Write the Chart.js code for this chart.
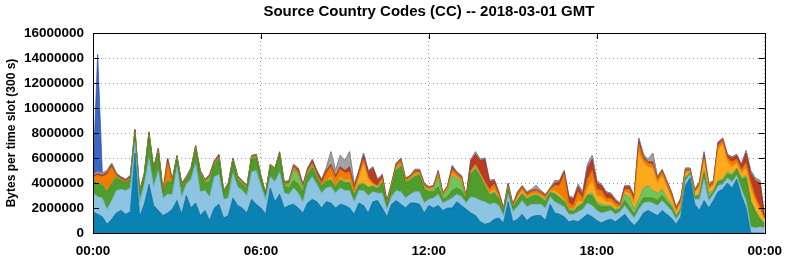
<!DOCTYPE html>
<html>
<head>
<meta charset="utf-8">
<title>Source Country Codes (CC) -- 2018-03-01 GMT</title>
<script src="https://cdn.jsdelivr.net/npm/chart.js@4.4.1/dist/chart.umd.min.js"></script>
<style>
  html, body { margin: 0; padding: 0; background: #fff; }
  #wrap { width: 792px; height: 259px; }
</style>
</head>
<body>
<div id="wrap"><canvas id="chart" width="792" height="259"></canvas></div>
<script>
// ===== Data =====
// One value every 10 minutes (00:00 .. 24:00), in millions of bytes per 300 s slot.
// Layers listed bottom -> top, as stacked in the picture.
const darkBlue = [
  1.7,1.5,1.3,0.7,1.1,1.6,1.8,1.5,1.7,6.4,1.3,2.3,
  3.9,2.2,1.8,1.4,1.6,1.9,2.6,1.5,3.0,2.0,2.4,1.4,
  1.8,1.0,2.0,2.3,1.2,1.4,2.8,2.2,2.0,1.6,2.7,2.3,
  2.0,1.5,3.6,2.5,3.1,2.0,2.2,2.3,2.0,1.6,2.4,2.7,
  2.5,2.0,2.5,2.4,2.0,2.3,2.2,2.0,1.5,2.4,2.2,1.6,
  2.5,2.6,2.0,1.3,2.3,2.6,2.3,2.0,2.4,2.4,2.3,1.6,
  2.2,2.0,2.2,1.8,2.0,2.0,2.5,2.2,1.9,1.6,1.4,0.9,
  0.7,0.8,1.1,1.2,0.8,2.5,0.9,1.1,1.5,1.0,1.3,1.4,
  1.4,1.0,2.3,1.6,1.5,1.3,0.9,1.0,0.9,1.2,1.5,1.3,
  1.0,0.8,1.0,1.1,0.9,1.2,1.5,1.0,0.6,1.0,1.6,1.8,
  1.6,1.4,1.8,1.5,1.2,0.7,1.3,3.8,4.4,2.3,1.8,2.6,
  2.0,2.6,3.3,3.5,4.0,3.6,4.3,3.0,2.0,0,0,0,
  0
];
const lightBlue = [
  1.5,1.4,1.5,1.2,1.5,1.8,1.7,1.9,1.9,0.9,1.2,1.6,
  2.1,1.5,3.2,1.4,1.5,1.2,2.7,1.4,0.9,2.3,3.2,1.9,
  1.6,1.9,2.5,2.4,1.5,1.4,2.0,1.5,1.4,1.4,2.2,2.7,
  1.8,1.2,0.9,1.6,1.8,1.2,0.9,1.3,1.2,0.9,1.6,1.8,
  1.4,1.2,1.1,1.3,1.2,1.3,1.2,1.4,1.0,1.0,1.2,1.4,
  0.8,0.6,1.2,0.6,0.6,0.8,1.0,0.8,0.7,0.9,1.0,0.8,
  0.5,0.8,0.9,0.6,0.6,0.8,0.6,0.7,0.5,1.3,1.4,1.7,
  1.8,1.5,1.3,1.0,0.6,0.6,0.8,1.0,1.1,1.1,1.0,0.9,
  0.9,1.0,0.6,0.9,0.8,0.8,0.6,0.5,0.8,0.7,0.9,0.9,
  0.8,0.8,0.7,0.7,0.6,0.5,0.7,0.7,0.6,0.9,0.8,0.7,
  0.8,0.8,0.8,0.7,0.6,0.4,0.4,0.4,0.3,0.4,0.9,1.7,
  0.6,0.5,0.5,0.4,0.4,0.5,0.3,0.5,0.6,0.5,0.4,0.5,
  0.4
];
const darkGreen = [
  1.0,1.0,1.0,1.3,1.3,1.0,0.7,0.6,0.7,0.6,0.6,0.6,
  1.7,1.2,1.4,0.4,1.0,0.9,0.6,0.8,0.4,0.6,1.1,1.4,
  0.6,1.2,0.9,1.2,0.5,1.0,0.9,0.6,0.5,0.5,1.0,1.0,
  0.6,0.4,0.8,0.9,1.3,0.6,0.5,0.6,0.7,0.8,0.6,0.7,
  0.5,0.5,0.5,0.5,0.4,0.6,0.6,0.6,0.5,0.4,0.5,0.6,
  0.4,0.3,0.8,0.3,0.7,1.6,2.0,1.2,1.1,1.2,1.3,1.1,
  0.6,0.5,0.6,0.3,0.3,0.6,0.5,0.5,0.3,1.8,2.3,1.9,
  1.2,0.7,0.8,0.5,0.3,0.4,0.3,0.5,0.5,0.6,0.6,0.7,
  0.5,0.5,0.3,0.6,0.5,0.4,0.3,0.2,0.4,0.4,0.6,0.8,
  0.5,0.5,0.4,0.3,0.3,0.2,0.4,0.4,0.3,0.3,0.4,0.3,
  0.4,0.4,0.4,0.3,0.3,0.2,0.2,0.2,0.1,0.2,0.3,0.5,
  0.2,0.2,0.3,0.3,0.3,0.5,0.5,0.8,1.8,2.0,1.3,0.6,
  0.3
];
const lightGreen = [
  0.1,0.1,0.1,0.1,0.1,0.1,0.05,0.05,0.05,0.1,0.1,0.1,
  0.1,0.05,0.1,0.05,0.1,0.05,0.1,0.05,0.05,0.1,0.1,0.1,
  0.1,0.3,0.1,0.1,0.05,0.05,0.1,0.1,0.1,0.1,0.1,0.1,
  0.05,0.03,0.05,0.05,0.1,0.1,0.3,0.9,0.8,0.3,0.2,0.2,
  0.1,0.1,0.1,0.1,0.1,0.1,0.1,0.1,0.1,0.1,0.1,0.1,
  0.1,0.1,0.1,0.05,0.1,0.1,0.1,0.1,0.1,0.1,0.1,0.1,
  0.1,0.2,0.8,0.2,0.6,1.2,0.8,0.7,0.05,0.1,0.2,0.1,
  0.1,0.1,0.1,0.1,0.05,0.1,0.05,0.1,0.1,0.1,0.1,0.1,
  0.1,0.1,0.1,0.1,0.1,0.1,0.1,0.1,0.1,0.1,0.1,0.2,
  0.2,0.2,0.1,0.1,0.1,0.05,0.5,0.8,0.4,0.5,0.8,1.0,
  0.6,0.6,0.5,0.3,0.2,0.1,0.1,0.1,0.05,0.05,0.1,0.2,
  0.4,0.1,0.1,0.1,0.2,0.1,0.1,0.1,0.2,0.1,0.1,0.1,
  0.05
];
const yellow = [
  0,0,0,0,0,0,0,0,0,0,0,0,
  0,0,0,0,0,0,0,0,0,0,0,0,
  0,0,0,0,0,0,0,0,0,0,0,0,
  0,0,0,0,0,0,0,0,0,0,0,0,
  0,0,0,0.2,0,0.2,0.1,0.2,0.1,0.5,1.6,0.6,
  0.1,0.1,0.1,0.05,0.1,0.1,0.1,0.05,0.05,0.1,0.1,0.1,
  0.1,0.1,0.1,0.1,0.1,0.2,0.1,0.1,0.05,0.1,0.1,0.1,
  0.1,0.1,0.2,0.1,0.05,0.1,0.05,0.2,0.2,0.1,0.1,0.1,
  0.1,0.1,0.1,0.2,0.2,0.1,0.1,0.1,0.4,0.1,0.5,1.0,
  0.5,0.6,0.3,0.3,0.2,0.1,0.2,0.3,0.5,3.8,2.0,1.5,
  1.8,0.8,1.1,0.9,0.5,0.3,0.4,0.3,0.1,0.3,0.6,0.8,
  0.3,0.4,2.5,2.8,0.8,0.6,0.4,0.4,0.6,1.0,0.8,0.6,
  0.3
];
const orange = [
  0.2,0.6,0.6,1.4,1.3,0.1,0.1,0.1,0.1,0.1,0.1,0.1,
  0.1,0.1,0.1,0.05,1.5,0.1,0.1,0.1,0.05,0.1,0.1,0.1,
  0.1,0.1,0.1,0.1,0.05,0.05,0.1,0.1,0.1,0.1,0.1,0.1,
  0.05,0.03,0.05,0.05,0.1,0.1,0.1,0.2,0.2,0.1,0.2,0.2,
  0.2,0.2,0.6,0.8,0.7,0.6,0.6,0.6,0.3,0.3,0.3,0.2,
  0.1,0.1,0.2,0.1,0.1,0.2,0.3,0.15,0.15,0.2,0.1,0.1,
  0.1,0.1,0.2,0.1,0.1,0.3,0.2,0.2,0.05,0.1,0.1,0.1,
  0.2,0.3,0.4,0.2,0.1,0.1,0.1,0.2,0.2,0.2,0.2,0.2,
  0.2,0.2,0.1,0.4,0.7,2.0,0.4,0.3,0.7,0.3,0.7,0.8,
  0.5,0.5,0.3,0.3,0.3,0.15,0.2,0.3,0.3,0.6,0.3,0.3,
  0.3,0.3,0.3,0.3,0.3,0.2,0.2,0.2,0.1,0.1,0.2,0.3,
  0.2,0.2,0.3,0.3,0.3,0.4,0.3,0.3,0.4,0.5,0.3,0.3,
  0.1
];
const red = [
  0.1,0.15,0.15,0.15,0.15,0.1,0.1,0.1,0.1,0.1,0.05,0.05,
  0.1,0.1,0.1,0.05,0.2,0.1,0.05,0.1,0.05,0.05,0.05,0.05,
  0.05,0.1,0.1,0.1,0.05,0.05,0.05,0.05,0.05,0.05,0.05,0.05,
  0.05,0.02,0.05,0.05,0.05,0.05,0.1,0.1,0.2,0.1,0.1,0.2,
  0.2,0.2,0.2,0.2,0.2,0.2,0.2,0.4,0.2,0.2,0.3,0.4,
  1.2,0.4,0.2,0.1,0.05,0.1,0.1,0.05,0.05,0.1,0.1,0.1,
  0.05,0.05,0.1,0.05,0.05,0.2,0.1,0.1,0.03,0.8,0.8,1.0,
  1.8,0.6,0.3,0.1,0.05,0.1,0.05,0.1,0.1,0.1,0.1,0.1,
  0.1,0.1,0.05,0.2,0.3,0.2,0.5,0.5,0.4,0.3,0.9,0.9,
  0.5,0.4,0.4,0.3,0.2,0.1,0.2,0.2,0.2,0.3,0.2,0.1,
  0.2,0.1,0.1,0.1,0.1,0.1,0.1,0.1,0.05,0.05,0.1,0.2,
  0.1,0.1,0.2,0.1,0.2,0.3,0.3,0.3,0.8,0.7,1.3,1.9,
  0.05
];
const gray = [
  0.1,0.15,0.15,0.15,0.15,0.1,0.05,0.05,0.05,0.1,0.05,0.05,
  0.1,0.05,0.1,0.05,0.1,0.05,0.05,0.05,0.05,0.05,0.05,0.05,
  0.05,0.1,0.1,0.1,0.05,0.05,0.05,0.05,0.05,0.05,0.05,0.05,
  0.05,0.02,0.05,0.05,0.05,0.05,0.1,0.1,0.1,0.1,0.1,0.1,
  0.1,0.1,0.2,1.0,0.4,0.9,0.8,1.2,0.2,0.1,0.2,0.1,
  0.1,0.1,0.1,0.1,0.05,0.1,0.1,0.05,0.05,0.1,0.1,0.1,
  0.05,0.05,0.1,0.05,0.05,0.1,0.1,0.1,0.02,0.1,0.2,0.1,
  0.1,0.1,0.1,0.1,0.05,0.1,0.05,0.1,0.1,0.1,0.1,0.3,
  0.1,0.1,0.05,0.2,0.1,0.1,0.1,0.1,0.2,0.2,0.3,0.3,
  0.2,0.1,0.1,0.1,0.1,0.1,0.1,0.1,0.1,0.2,0.2,0.2,
  0.7,0.1,0.1,0.1,0.1,0.1,0.1,0.1,0.1,0.1,0.1,0.2,
  0.2,0.1,0.1,0.1,0.1,0.1,0.1,0.1,0.2,0.2,0.2,0.2,
  0
];
const spike = [
  0,9.4,0,0,0,0,0,0,0,0,0,0,
  0,0,0,0,0,0,0,0,0,0,0,0,
  0,0,0,0,0,0,0,0,0,0,0,0,
  0,0,0,0,0,0,0,0,0,0,0,0,
  0,0,0,0,0,0,0,0,0,0,0,0,
  0,0,0,0,0,0,0,0,0,0,0,0,
  0,0,0,0,0,0,0,0,0,0,0,0,
  0,0,0,0,0,0,0,0,0,0,0,0,
  0,0,0,0,0,0,0,0,0,0,0,0,
  0,0,0,0,0,0,0,0,0,0,0,0,
  0,0,0,0,0,0,0,0,0,0,0,0,
  0,0,0,0,0,0,0,0,0,0,0,0,
  0
];

const xTickLabels = ["00:00", "06:00", "12:00", "18:00", "00:00"];
const slotHours = darkBlue.map((_, i) => i / 6); // 10-minute samples

const FONT = "'Liberation Sans', Arial, Helvetica, sans-serif";
const MB = 1e6;

// ===== Chart =====
const layers = [
  { label: "darkBlue",   data: darkBlue,   fill: "#0a82b4", edge: "#06648e" },
  { label: "lightBlue",  data: lightBlue,  fill: "#8cc4e2", edge: "#6aa4c6" },
  { label: "darkGreen",  data: darkGreen,  fill: "#4f9e2c", edge: "#3b7e1f" },
  { label: "lightGreen", data: lightGreen, fill: "#74c25a", edge: "#5aa244" },
  { label: "yellow",     data: yellow,     fill: "#ffaa1e", edge: "#e08c10" },
  { label: "orange",     data: orange,     fill: "#f07c00", edge: "#c86400" },
  { label: "red",        data: red,        fill: "#bb3a22", edge: "#922a16" },
  { label: "gray",       data: gray,       fill: "#a2a2a2", edge: "#848484" },
  { label: "spike",      data: spike,      fill: "#3a66c8", edge: "#2a4ea0" }
];

const datasets = layers.map((l, k) => ({
  label: l.label,
  data: l.data.map(v => v * MB),
  backgroundColor: l.fill,
  borderColor: l.edge,
  borderWidth: 0.7,
  pointRadius: 0,
  tension: 0,
  fill: k === 0 ? "origin" : "-1"
}));

// frame + inward tick marks, like the original plot
const framePlugin = {
  id: "frame",
  afterDraw(chart) {
    const { ctx, chartArea: a, scales } = chart;
    ctx.save();
    ctx.strokeStyle = "#000";
    ctx.lineWidth = 1;
    ctx.beginPath();
    scales.y.ticks.forEach(t => {
      const py = Math.round(scales.y.getPixelForValue(t.value)) + 0.5;
      ctx.moveTo(a.left, py); ctx.lineTo(a.left + 6, py);
      ctx.moveTo(a.right - 6, py); ctx.lineTo(a.right, py);
    });
    scales.x.ticks.forEach(t => {
      const px = Math.round(scales.x.getPixelForValue(t.value)) + 0.5;
      ctx.moveTo(px, a.top); ctx.lineTo(px, a.top + 6);
    });
    ctx.stroke();
    ctx.strokeRect(Math.round(a.left) + 0.5, Math.round(a.top) + 0.5,
                   Math.round(a.width), Math.round(a.height));
    ctx.restore();
  }
};

new Chart(document.getElementById("chart"), {
  type: "line",
  data: { labels: slotHours, datasets },
  plugins: [framePlugin],
  options: {
    responsive: false,
    animation: false,
    devicePixelRatio: 1,
    layout: { padding: { left: 0, right: 22, top: 0, bottom: 0 } },
    plugins: {
      legend: { display: false },
      tooltip: { enabled: false },
      title: {
        display: true,
        fullSize: false,
        text: "Source Country Codes (CC) -- 2018-03-01 GMT",
        color: "#000",
        font: { family: FONT, size: 15, weight: "bold" },
        padding: { top: 3, bottom: 12 }
      }
    },
    scales: {
      x: {
        type: "linear",
        min: 0,
        max: 24,
        ticks: {
          stepSize: 6,
          autoSkip: false,
          maxRotation: 0,
          color: "#000",
          padding: 10,
          font: { family: FONT, size: 13.5, weight: "bold" },
          callback: v => xTickLabels[v / 6]
        },
        grid: { color: "#9a9a9a", lineWidth: 1, drawTicks: false },
        border: { display: false, dash: [1, 3] },
        afterFit: s => { s.height = 26; }
      },
      y: {
        stacked: true,
        min: 0,
        max: 16 * MB,
        ticks: {
          stepSize: 2 * MB,
          color: "#000",
          padding: 9,
          font: { family: FONT, size: 13.5, weight: "bold" },
          callback: v => String(v)
        },
        grid: { color: "#9a9a9a", lineWidth: 1, drawTicks: false },
        border: { display: false, dash: [1, 3] },
        title: {
          display: true,
          text: "Bytes per time slot (300 s)",
          color: "#000",
          font: { family: FONT, size: 12, weight: "bold" },
          padding: { top: 4, bottom: 0 }
        },
        afterFit: s => { s.width = 93; }
      }
    }
  }
});
</script>
</body>
</html>
